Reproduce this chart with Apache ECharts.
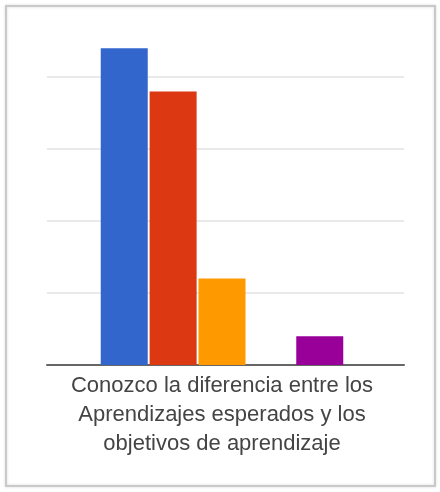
<!DOCTYPE html>
<html>
<head>
<meta charset="utf-8">
<script src="https://cdn.jsdelivr.net/npm/echarts@6/dist/echarts.min.js"></script>
<style>
html,body{margin:0;padding:0;background:#fff;}
#chart{width:440px;height:492px;}
</style>
</head>
<body>
<div id="chart"></div>
<script>
const categories = ['Conozco la diferencia entre los\nAprendizajes esperados y los\nobjetivos de aprendizaje'];
const seriesNames = ['Serie 1', 'Serie 2', 'Serie 3', 'Serie 4', 'Serie 5'];
const seriesValues = [[22], [19], [6], [0], [2]];
const seriesColors = ['#3366cc', '#dc3912', '#ff9900', '#109618', '#990099'];
const yTicks = [0, 5, 10, 15, 20, 25];

const yMin = yTicks[0], yMax = yTicks[yTicks.length - 1];
const chart = echarts.init(document.getElementById('chart'), null, {renderer: 'canvas'});
chart.setOption({
  animation: false,
  backgroundColor: '#fff',
  graphic: [{
    type: 'rect',
    shape: {x: 6, y: 6, width: 429, height: 480},
    style: {fill: 'none', stroke: '#c9c9c9', lineWidth: 2, shadowBlur: 3, shadowColor: 'rgba(0,0,0,0.15)'},
    z: -1
  }],
  grid: [
    {left: 47, right: 36, top: 5, bottom: 127},
    {left: 44, right: 40, top: 5, bottom: 127}
  ],
  xAxis: [{
    type: 'category', gridIndex: 0,
    data: categories,
    axisLine: {lineStyle: {color: '#666', width: 2}},
    axisTick: {show: false},
    axisLabel: {show: false}
  }, {
    type: 'category', gridIndex: 1,
    data: categories,
    axisLine: {show: false},
    axisTick: {show: false},
    axisLabel: {
      color: '#444', fontSize: 22, lineHeight: 29,
      fontFamily: 'Liberation Sans, Arial, sans-serif', margin: 6, interval: 0
    }
  }],
  yAxis: [{
    type: 'value', gridIndex: 0,
    min: yMin, max: yMax, interval: 5,
    axisLabel: {show: false},
    axisLine: {show: false},
    axisTick: {show: false},
    splitLine: {lineStyle: {color: ['#e2e2e2', '#e2e2e2', '#e2e2e2', '#e2e2e2', '#e2e2e2', 'rgba(0,0,0,0)'], width: 1.5}}
  }, {
    type: 'value', gridIndex: 1,
    min: yMin, max: yMax, interval: 5,
    show: false,
    splitLine: {show: false}
  }],
  series: seriesNames.map((n, i) => ({
    name: n, type: 'bar', data: seriesValues[i],
    xAxisIndex: 1, yAxisIndex: 1,
    barWidth: 47, barGap: '4%',
    itemStyle: {color: seriesColors[i]}
  }))
});
</script>
</body>
</html>
